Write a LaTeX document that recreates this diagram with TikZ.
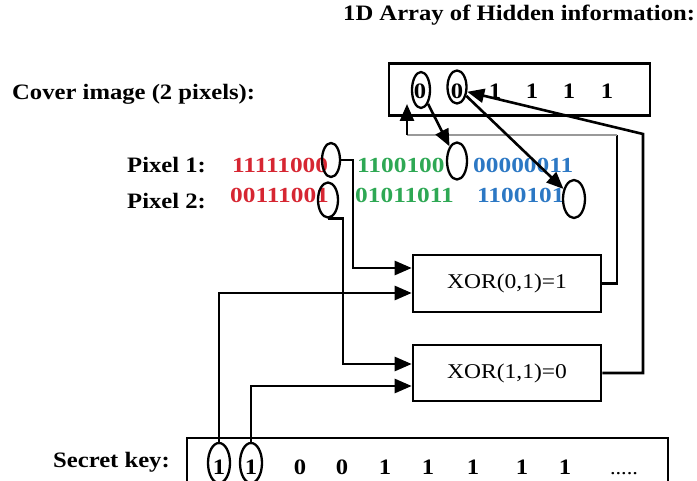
\documentclass[tikz,border=0pt]{standalone}
\usepackage{fontspec}
\setmainfont{Liberation Serif}[FakeStretch=1.12]
\newfontfamily\bitfont{Liberation Serif}[FakeStretch=1.18]
\usetikzlibrary{shapes.geometric,arrows.meta}
\definecolor{bitred}{RGB}{214,38,50}
\definecolor{bitgreen}{RGB}{46,168,84}
\definecolor{bitblue}{RGB}{44,120,196}

\begin{document}
\begin{tikzpicture}[x=1pt,y=-1pt,
  wire/.style={line width=2.6pt},
  arr/.style={wire,-{Triangle[length=17pt,width=14pt]}},
  faint/.style={line width=1.3pt, draw=black!40},
  lbl/.style={font=\fontsize{22}{26}\selectfont\bfseries, inner sep=0pt, anchor=base west},
  bits/.style={font=\bitfont\fontsize{21.5}{26}\selectfont\bfseries, inner sep=0pt, anchor=base west},
  dig/.style={font=\fontsize{22}{26}\selectfont\bfseries, inner sep=0pt, anchor=base},
  frame/.style={draw, line width=2.6pt, inner sep=0pt},
  ring/.style={ellipse, draw, line width=2.3pt, inner sep=0pt},
  gate/.style={frame, minimum width=188pt, minimum height=57pt, font=\fontsize{21}{25}\selectfont}
]
\useasboundingbox (0,0) rectangle (697,481);
\clip (0,0) rectangle (697,481);

% labels
\node[lbl] (title) at (343,21) {1D Array of Hidden information:};
\node[lbl] (coverlbl) at (12,99.5) {Cover image (2 pixels):};
\node[lbl] (p1lbl) at (127,173) {Pixel 1:};
\node[lbl] (p2lbl) at (127,209) {Pixel 2:};
\node[lbl] (seclbl) at (53,467) {Secret key:};

% hidden-information array
\node[frame, minimum width=261pt, minimum height=52pt] (hidbox) at (519.5,89.5) {};
\node[dig] (h0) at (420,98.5) {0};
\node[dig] (h1) at (457,98.5) {0};
\node[dig] (h2) at (495,98.5) {1};
\node[dig] (h3) at (532,98.5) {1};
\node[dig] (h4) at (569,98.5) {1};
\node[dig] (h5) at (607,98.5) {1};
\node[ring, minimum width=18pt, minimum height=36pt] (eh1) at (421,90) {};
\node[ring, minimum width=19pt, minimum height=33pt] (eh2) at (457,87) {};

% pixel bytes (R, G, B)
\node[bits, text=bitred]   (r1) at (232,172.5) {11111000};
\node[bits, text=bitgreen] (g1) at (357,172.5) {1100100};
\node[bits, text=bitblue]  (b1) at (473,172.5) {00000011};
\node[bits, text=bitred]   (r2) at (230,202.5) {00111001};
\node[bits, text=bitgreen] (g2) at (355,202.5) {01011011};
\node[bits, text=bitblue]  (b2) at (477,202.5) {1100101};
\node[ring, minimum width=18pt, minimum height=34pt] (er1) at (331,160) {};
\node[ring, minimum width=20pt, minimum height=35pt] (er2) at (328,200) {};
\node[ring, minimum width=20pt, minimum height=37pt] (eg1) at (457,161) {};
\node[ring, minimum width=22pt, minimum height=38pt] (eb2) at (574,199) {};

% XOR gates
\node[gate] (xor1) at (507,283.5) {XOR(0,1)=1};
\node[gate, minimum height=56pt] (xor2) at (507,373) {XOR(1,1)=0};

% secret key array
\node[frame, minimum width=481pt, minimum height=62pt] (keybox) at (427.5,469) {};
\node[dig] (k1) at (219,474) {1};
\node[dig] (k2) at (251,474) {1};
\node[dig] (k3) at (300,474) {0};
\node[dig] (k4) at (342,474) {0};
\node[dig] (k5) at (385,474) {1};
\node[dig] (k6) at (428,474) {1};
\node[dig] (k7) at (473,474) {1};
\node[dig] (k8) at (522,474) {1};
\node[dig] (k9) at (565,474) {1};
\node[dig, font=\fontsize{20}{24}\selectfont] (kdots) at (624,474) {.....};
\node[ring, minimum width=22pt, minimum height=40pt] (ek1) at (219,463) {};
\node[ring, minimum width=22pt, minimum height=40pt] (ek2) at (251,463) {};

% inputs of the gates
\draw[arr] (er1.east) -- ++(12,0) |- ([yshift=15.5pt]xor1.west);
\draw[arr] (ek1.north) |- ([yshift=-9.5pt]xor1.west);
\draw[arr] (er2.south) -- ++(15,0) |- ([yshift=9pt]xor2.west);
\draw[arr] (ek2.north) |- ([yshift=-13pt]xor2.west);

% gate outputs back into the hidden array
\coordinate (bend1) at (617,135);
\coordinate (bend1l) at (407,135);
\coordinate (tip1) at (407,104);
\draw[wire] (xor1.east) -| (bend1);
\draw[faint] (bend1) -- (bend1l);
\draw[arr] (bend1l) -- (tip1);
\coordinate (bend2) at (643,134);
\draw[arr] (xor2.east) -| (bend2) -- (eh2.-25);

% hidden bits placed into the pixel LSBs
\draw[arr] (eh1) -- (eg1);
\draw[arr] (eh2) -- (eb2);
\end{tikzpicture}
\end{document}
